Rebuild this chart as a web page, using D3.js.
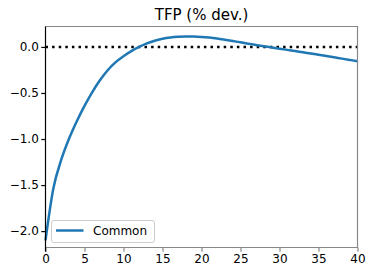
<!DOCTYPE html>
<html>
<head>
<meta charset="utf-8">
<script src="https://cdn.jsdelivr.net/npm/d3@7"></script>
<style>
  body { margin: 0; background: white; }
  text { font-family: "DejaVu Sans", sans-serif; }
</style>
</head>
<body>
<svg id="chart" width="368" height="266"></svg>
<script>
// periods and TFP response (% dev.)
var periods = d3.range(0, 41)
var tfp = [-2.10, -1.54, -1.23, -1.00, -0.81, -0.64, -0.49, -0.36, -0.25, -0.165,
           -0.10, -0.045, 0.0, 0.038, 0.068, 0.089, 0.103, 0.111, 0.114, 0.113,
           0.109, 0.102, 0.092, 0.079, 0.065, 0.05, 0.035, 0.021, 0.007, -0.006,
           -0.019, -0.032, -0.045, -0.058, -0.071, -0.085, -0.099, -0.113, -0.127, -0.141, -0.155]
var xTicks = [0, 5, 10, 15, 20, 25, 30, 35, 40]
var yTicks = [0.0, -0.5, -1.0, -1.5, -2.0]
var seriesName = "Common"
var title = "TFP (% dev.)"

var svg = d3.select("#chart")
// plot box (window.top is reserved, so use px* names)
var pxLeft = 45.5, pxRight = 357.5, pxTop = 26.5, pxBottom = 247.5

var x = d3.scaleLinear().domain([0, 40]).range([pxLeft, pxRight])
var y = d3.scaleLinear().domain([-2.178, 0.222]).range([pxBottom, pxTop])

// title
svg.append("text")
    .attr("x", (pxLeft + pxRight) / 2)
    .attr("y", 20)
    .attr("text-anchor", "middle")
    .attr("font-size", "15px")
    .attr("fill", "black")
    .text(title)

// zero line
svg.append("line")
    .attr("x1", pxLeft).attr("x2", pxRight)
    .attr("y1", y(0)).attr("y2", y(0))
    .attr("stroke", "black")
    .attr("stroke-width", 2.5)
    .attr("stroke-dasharray", "2.5,4.1")

// series line
var line = d3.line()
    .x(function(d, i){ return x(periods[i]) })
    .y(function(d){ return y(d) })
    .curve(d3.curveMonotoneX)

svg.append("path")
    .datum(tfp)
    .attr("fill", "none")
    .attr("stroke", "#1f77b4")
    .attr("stroke-width", 2.5)
    .attr("d", line)

// frame: top/right/bottom gray, left black
svg.append("path")
    .attr("d", "M" + pxLeft + "," + pxTop + "H" + pxRight + "V" + pxBottom + "H" + pxLeft)
    .attr("fill", "none")
    .attr("stroke", "#888")
    .attr("stroke-width", 1.2)

// axes
var xAxis = svg.append("g")
    .attr("transform", "translate(0," + pxBottom + ")")
    .call(d3.axisBottom(x).tickValues(xTicks).tickSize(4.2).tickPadding(2.5).tickFormat(d3.format("d")))
xAxis.select(".domain").remove()
xAxis.selectAll("line").attr("stroke", "#888").attr("stroke-width", 1.2)
xAxis.selectAll("text").attr("font-size", "12px").attr("fill", "black")

var yAxis = svg.append("g")
    .attr("transform", "translate(" + pxLeft + ",0)")
    .call(d3.axisLeft(y).tickValues(yTicks).tickSize(4.2).tickPadding(2.5)
        .tickFormat(function(d){ return d3.format(".1f")(d).replace("-", "\u2212") }))
yAxis.select(".domain").remove()
yAxis.selectAll("line").attr("stroke", "black").attr("stroke-width", 1.2)
yAxis.selectAll("text").attr("font-size", "12px").attr("fill", "black")

svg.append("line")
    .attr("x1", pxLeft).attr("x2", pxLeft)
    .attr("y1", pxTop).attr("y2", pxBottom + 4.2)
    .attr("stroke", "black")
    .attr("stroke-width", 1.2)

// legend
var lg = svg.append("g")
lg.append("rect")
    .attr("x", 51.5).attr("y", 220.5)
    .attr("width", 103).attr("height", 22)
    .attr("rx", 2.5)
    .attr("fill", "white")
    .attr("fill-opacity", 0.8)
    .attr("stroke", "#ccc")
lg.append("line")
    .attr("x1", 56).attr("x2", 83.5)
    .attr("y1", 230.5).attr("y2", 230.5)
    .attr("stroke", "#1f77b4")
    .attr("stroke-width", 2.5)
lg.append("text")
    .attr("x", 93)
    .attr("y", 235)
    .attr("font-size", "12px")
    .attr("fill", "black")
    .text(seriesName)
</script>
</body>
</html>
